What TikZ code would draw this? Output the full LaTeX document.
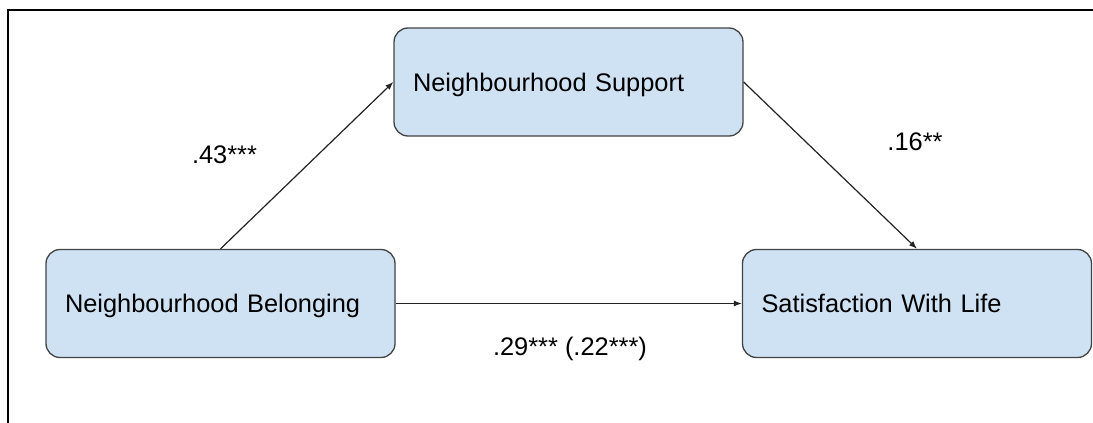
\documentclass[tikz,border=0pt]{standalone}
\usepackage{fontspec}
\setmainfont{Liberation Sans}
\usetikzlibrary{arrows.meta}
\definecolor{boxfill}{HTML}{CFE2F3}
\definecolor{boxline}{HTML}{434343}
\definecolor{arrline}{HTML}{222222}
\begin{document}
\begin{tikzpicture}[x=1pt,y=-1pt,
  font=\fontsize{25.4pt}{30pt}\selectfont,
  varbox/.style={draw=boxline, fill=boxfill, line width=1.3pt, rounded corners=14pt,
    minimum width=349pt, minimum height=108pt, text width=311pt, inner xsep=19pt,
    inner ysep=0pt, align=left, text height=18pt, text depth=0pt},
  pathlink/.style={draw=arrline, line width=1.2pt, -{Latex[length=8pt,width=6pt]}},
  coef/.style={anchor=base, inner sep=0pt}]
\useasboundingbox (0,0) rectangle (1093,423);
% frame lines
\draw[line width=2pt] (8,423) -- (8,10) -- (1093,10);
% variables
\node[varbox] (belong) at (220.5,303.5) {Neighbourhood Belonging};
\node[varbox] (support) at (568.5,82) {Neighbourhood Support};
\node[varbox] (swl) at (917,303.5) {Satisfaction With Life};
% paths
\draw[pathlink] (belong.north) -- (support.west);
\draw[pathlink] (support.east) -- (swl.north);
\draw[pathlink] (belong.east) -- (swl.west);
% coefficients
\node[coef] (ca) at (224.5,163) {.43***};
\node[coef] (cb) at (915,150) {.16**};
\node[coef] (cc) at (570,355) {.29*** (.22***)};
\end{tikzpicture}
\end{document}
